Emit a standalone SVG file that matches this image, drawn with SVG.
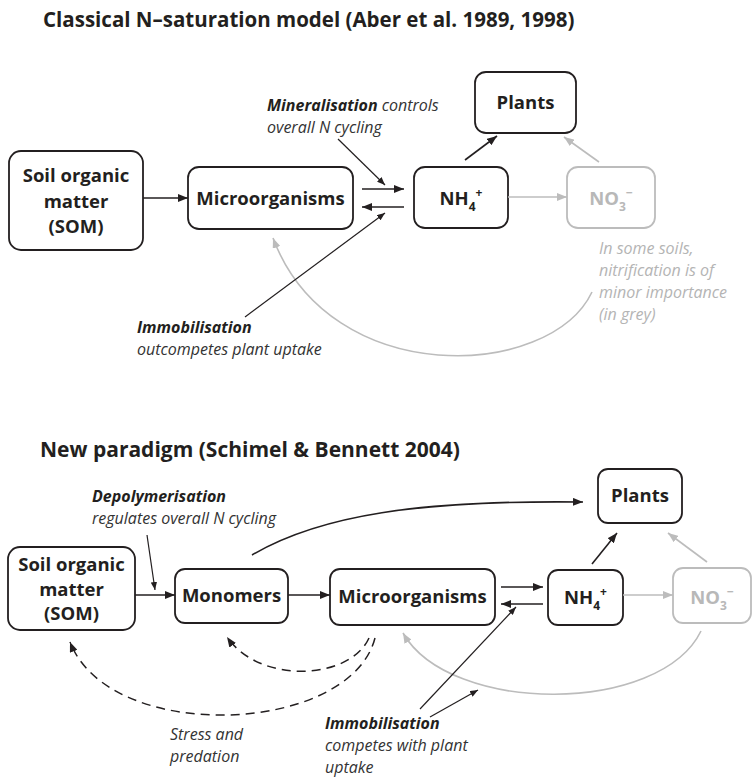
<svg xmlns="http://www.w3.org/2000/svg" width="753" height="777" viewBox="0 0 753 777">
<style>
text{font-family:"Open Sans","Noto Sans","Liberation Sans",sans-serif;}
.title{font-weight:700;fill:#231f20;}
.box{fill:#fff;stroke:#231f20;stroke-width:1.8;}
.gbox{fill:#fff;stroke:#bcbcbc;stroke-width:1.8;}
.node{font-size:18.5px;font-weight:700;fill:#231f20;text-anchor:middle;}
.gnode{font-size:18.5px;font-weight:700;fill:#b8b8b8;text-anchor:middle;}
.sub{font-size:12px;}
.ann{font-size:16px;font-style:italic;fill:#333;}
.annb{font-weight:700;fill:#231f20;}
.gann{font-size:16px;font-style:italic;fill:#b4b4b4;}
.ln{fill:none;stroke:#231f20;stroke-width:1.6;}
.thin{fill:none;stroke:#231f20;stroke-width:1.2;}
.gln{fill:none;stroke:#bcbcbc;stroke-width:1.6;}
.dash{fill:none;stroke:#231f20;stroke-width:1.5;stroke-dasharray:9 6;}
</style>
<defs>
<marker id="ah" viewBox="0 0 10 8" refX="10" refY="4" markerWidth="10" markerHeight="8" markerUnits="userSpaceOnUse" orient="auto"><path d="M0,0 L10,4 L0,8 z" fill="#231f20"/></marker>
<marker id="ahs" viewBox="0 0 10 8" refX="10" refY="4" markerWidth="8" markerHeight="6.4" markerUnits="userSpaceOnUse" orient="auto"><path d="M0,0 L10,4 L0,8 z" fill="#231f20"/></marker>
<marker id="ahg" viewBox="0 0 10 8" refX="10" refY="4" markerWidth="10" markerHeight="8" markerUnits="userSpaceOnUse" orient="auto"><path d="M0,0 L10,4 L0,8 z" fill="#bcbcbc"/></marker>
</defs>

<text class="title" x="43" y="27" font-size="20.5">Classical N–saturation model (Aber et al. 1989, 1998)</text>
<text class="title" x="40" y="457" font-size="21">New paradigm (Schimel &amp; Bennett 2004)</text>

<!-- Top diagram nodes -->
<g id="top-som"><rect class="box" x="9" y="151" width="134" height="99" rx="12"/>
<text class="node" x="76" y="182">Soil organic</text><text class="node" x="76" y="208">matter</text><text class="node" x="76" y="233">(SOM)</text></g>
<g id="top-micro"><rect class="box" x="188" y="167" width="165" height="62" rx="11"/>
<text class="node" x="270.5" y="205">Microorganisms</text></g>
<g id="top-nh4"><rect class="box" x="414" y="167" width="94" height="61" rx="11"/>
<text class="node" x="461" y="205">NH<tspan class="sub" dy="6">4</tspan><tspan class="sub" dy="-14">+</tspan></text></g>
<g id="top-plants"><rect class="box" x="475" y="72" width="101" height="61" rx="11"/>
<text class="node" x="525.5" y="109">Plants</text></g>
<g id="top-no3"><rect class="gbox" x="567" y="167" width="88" height="61" rx="11"/>
<text class="gnode" x="611" y="205">NO<tspan class="sub" dy="6">3</tspan><tspan class="sub" dy="-14">−</tspan></text></g>

<!-- Top annotations -->
<g id="top-labels">
<text class="ann" x="267" y="111"><tspan class="annb">Mineralisation</tspan> controls</text>
<text class="ann" x="267" y="133">overall N cycling</text>
<text class="ann" x="137" y="333"><tspan class="annb">Immobilisation</tspan></text>
<text class="ann" x="137" y="355">outcompetes plant uptake</text>
<text class="gann" x="599" y="254">In some soils,</text>
<text class="gann" x="599" y="276">nitrification is of</text>
<text class="gann" x="599" y="298">minor importance</text>
<text class="gann" x="599" y="320">(in grey)</text>
</g>

<!-- Top connectors -->
<g id="top-connectors">
<line class="ln" x1="143" y1="198" x2="188" y2="198" marker-end="url(#ah)"/>
<line class="ln" x1="362" y1="189" x2="404" y2="189" marker-end="url(#ah)"/>
<line class="ln" x1="404" y1="207" x2="362" y2="207" marker-end="url(#ah)"/>
<line class="ln" x1="465" y1="160" x2="497" y2="136" marker-end="url(#ah)"/>
<line class="gln" x1="508" y1="197" x2="567" y2="197" marker-end="url(#ahg)"/>
<line class="gln" x1="599" y1="162" x2="564" y2="137" marker-end="url(#ahg)"/>
<path class="gln" d="M 592 292 C 550 380, 330 390, 273 238" marker-end="url(#ahg)"/>
<line class="thin" x1="338" y1="139" x2="385" y2="185" marker-end="url(#ahs)"/>
<line class="thin" x1="245" y1="317" x2="385" y2="213" marker-end="url(#ahs)"/>
</g>

<!-- Bottom diagram nodes -->
<g id="bot-som"><rect class="box" x="8" y="547" width="127" height="83" rx="12"/>
<text class="node" x="71.5" y="571">Soil organic</text><text class="node" x="71.5" y="596">matter</text><text class="node" x="71.5" y="620">(SOM)</text></g>
<g id="bot-mono"><rect class="box" x="175" y="569" width="113" height="54" rx="10"/>
<text class="node" x="231.5" y="602">Monomers</text></g>
<g id="bot-micro"><rect class="box" x="330" y="569" width="165" height="56" rx="10"/>
<text class="node" x="412.5" y="603">Microorganisms</text></g>
<g id="bot-nh4"><rect class="box" x="548" y="570" width="75" height="55" rx="10"/>
<text class="node" x="585.5" y="604">NH<tspan class="sub" dy="6">4</tspan><tspan class="sub" dy="-14">+</tspan></text></g>
<g id="bot-plants"><rect class="box" x="598" y="469" width="84" height="54" rx="10"/>
<text class="node" x="640" y="502">Plants</text></g>
<g id="bot-no3"><rect class="gbox" x="673" y="568" width="78" height="55" rx="10"/>
<text class="gnode" x="712" y="604">NO<tspan class="sub" dy="6">3</tspan><tspan class="sub" dy="-14">−</tspan></text></g>

<!-- Bottom annotations -->
<g id="bot-labels">
<text class="ann" x="92" y="502"><tspan class="annb">Depolymerisation</tspan></text>
<text class="ann" x="92" y="524">regulates overall N cycling</text>
<text class="ann" x="170" y="740">Stress and</text>
<text class="ann" x="170" y="762">predation</text>
<text class="ann" x="325" y="729"><tspan class="annb">Immobilisation</tspan></text>
<text class="ann" x="325" y="751">competes with plant</text>
<text class="ann" x="325" y="773">uptake</text>
</g>

<!-- Bottom connectors -->
<g id="bot-connectors">
<line class="ln" x1="135" y1="595" x2="175" y2="595" marker-end="url(#ah)"/>
<line class="ln" x1="288" y1="595" x2="330" y2="595" marker-end="url(#ah)"/>
<line class="ln" x1="501" y1="587" x2="543" y2="587" marker-end="url(#ah)"/>
<line class="ln" x1="543" y1="604" x2="501" y2="604" marker-end="url(#ah)"/>
<line class="ln" x1="592" y1="564" x2="617" y2="533" marker-end="url(#ah)"/>
<line class="gln" x1="623" y1="595" x2="673" y2="595" marker-end="url(#ahg)"/>
<line class="gln" x1="707" y1="562" x2="668" y2="533" marker-end="url(#ahg)"/>
<path class="ln" d="M 252 555 C 320 515, 420 500, 583 502" marker-end="url(#ah)"/>
<path class="gln" d="M 701 631 C 660 715, 450 715, 403 633" marker-end="url(#ahg)"/>
<path class="dash" d="M 369 638 C 350 680, 260 685, 227 637" marker-end="url(#ah)"/>
<path class="dash" d="M 375 638 C 350 735, 110 745, 70 642" marker-end="url(#ah)"/>
<line class="thin" x1="147" y1="535" x2="155" y2="590" marker-end="url(#ahs)"/>
<line class="thin" x1="420" y1="709" x2="516" y2="607" marker-end="url(#ahs)"/>
<line class="thin" x1="430" y1="717" x2="478" y2="690" marker-end="url(#ahs)"/>
</g>
</svg>
